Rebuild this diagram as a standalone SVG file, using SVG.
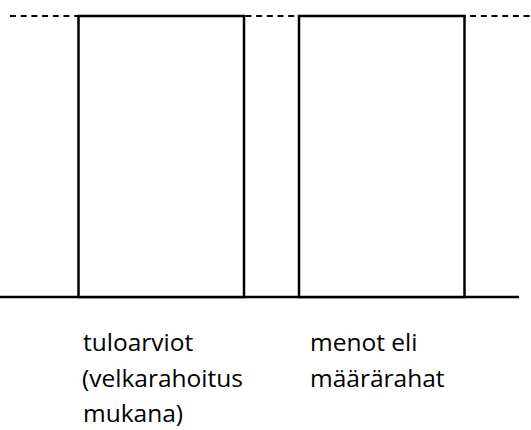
<svg xmlns="http://www.w3.org/2000/svg" width="531" height="430" viewBox="0 0 531 430">
  <style>
    .bar { fill: #ffffff; stroke: #000000; stroke-width: 2.5; }
    .rule { stroke: #000000; stroke-width: 2.5; fill: none; }
    .dash { stroke: #000000; stroke-width: 2; fill: none; stroke-dasharray: 6 4.7; }
    .label { font-family: "Open Sans", "Liberation Sans", sans-serif; font-size: 24.5px; fill: #000000; }
  </style>
  <rect width="531" height="430" fill="#ffffff"/>
  <g id="connectors">
    <!-- common top level, dashed -->
    <line class="dash" x1="10" y1="16" x2="531" y2="16"/>
    <!-- ground line -->
    <line class="rule" x1="0" y1="297" x2="519" y2="297"/>
  </g>
  <g id="tuloarviot">
    <rect class="bar" x="78.5" y="16" width="165.5" height="281"/>
    <text class="label" x="83" y="351">tuloarviot</text>
    <text class="label" x="82" y="387">(velkarahoitus</text>
    <text class="label" x="83" y="422">mukana)</text>
  </g>
  <g id="menot">
    <rect class="bar" x="299" y="16" width="165.5" height="281"/>
    <text class="label" x="310" y="351">menot eli</text>
    <text class="label" x="310" y="387">määrärahat</text>
  </g>
</svg>
